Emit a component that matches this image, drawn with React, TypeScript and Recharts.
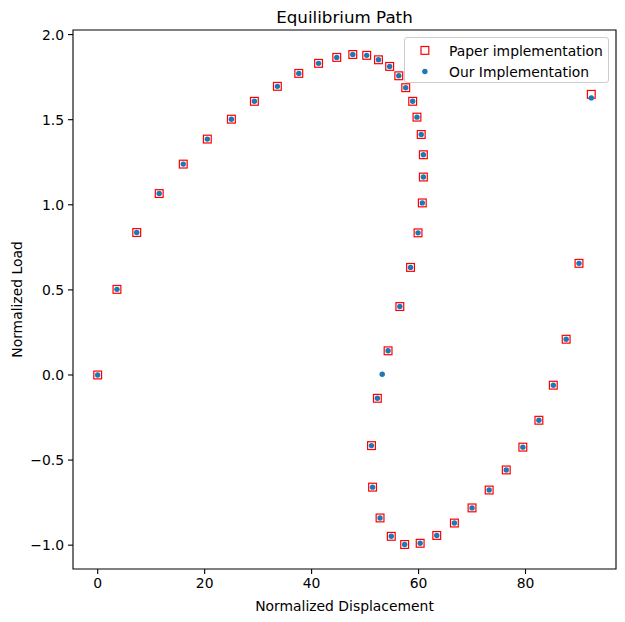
import { ScatterChart, Scatter, XAxis, YAxis, ReferenceArea } from 'recharts';

const paperX = [
  0, 3.6, 7.3, 11.5, 16.0, 20.5, 25.0, 29.3, 33.6, 37.6, 41.3, 44.7, 47.7, 50.3, 52.5, 54.6,
  56.3, 57.6, 58.9, 59.7, 60.5, 60.9, 60.9, 60.7, 59.9, 58.5, 56.5, 54.3, 52.3, 51.2, 51.4,
  52.8, 54.9, 57.4, 60.3, 63.4, 66.7, 70.0, 73.2, 76.4, 79.5, 82.5, 85.2, 87.6, 90.0, 92.3,
];
const paperY = [
  0, 0.503, 0.837, 1.066, 1.239, 1.386, 1.503, 1.608, 1.696, 1.772, 1.831, 1.866, 1.883, 1.878,
  1.852, 1.813, 1.758, 1.688, 1.608, 1.515, 1.413, 1.294, 1.163, 1.011, 0.835, 0.632, 0.402,
  0.142, -0.137, -0.415, -0.659, -0.84, -0.948, -0.996, -0.989, -0.943, -0.87, -0.781, -0.676,
  -0.558, -0.424, -0.266, -0.06, 0.21, 0.656, 1.649,
];
const oursX = [
  0, 3.6, 7.3, 11.5, 16.0, 20.5, 25.0, 29.3, 33.6, 37.6, 41.3, 44.7, 47.7, 50.3, 52.5, 54.6,
  56.3, 57.6, 58.9, 59.7, 60.5, 60.9, 60.9, 60.7, 59.9, 58.5, 56.5, 54.3, 53.2, 52.3, 51.2, 51.4,
  52.8, 54.9, 57.4, 60.3, 63.4, 66.7, 70.0, 73.2, 76.4, 79.5, 82.5, 85.2, 87.6, 90.0, 92.3,
];
const oursY = [
  0, 0.503, 0.837, 1.066, 1.239, 1.386, 1.503, 1.608, 1.696, 1.772, 1.831, 1.866, 1.883, 1.878,
  1.852, 1.813, 1.758, 1.688, 1.608, 1.515, 1.413, 1.294, 1.163, 1.011, 0.835, 0.632, 0.402,
  0.142, 0.004, -0.137, -0.415, -0.659, -0.84, -0.948, -0.996, -0.989, -0.943, -0.87, -0.781,
  -0.676, -0.558, -0.424, -0.266, -0.06, 0.21, 0.656, 1.628,
];
const xTicks = [0, 20, 40, 60, 80];
const yTicks = [-1.0, -0.5, 0.0, 0.5, 1.0, 1.5, 2.0];

const X_DOMAIN: [number, number] = [-4.62, 96.92];
const Y_DOMAIN: [number, number] = [-1.14, 2.027];

const paperData = paperX.map((x, i) => ({ x, y: paperY[i] }));
const oursData = oursX.map((x, i) => ({ x, y: oursY[i] }));

const FONT = '"DejaVu Sans", sans-serif';
const RED = '#ff0000';
const BLUE = '#1f77b4';

const SquareMarker = (props: any) => {
  const { cx, cy } = props;
  return <rect x={cx - 3.9} y={cy - 3.9} width={7.8} height={7.8} fill="none" stroke={RED} strokeWidth={1.2} />;
};

const DotMarker = (props: any) => {
  const { cx, cy } = props;
  return <circle cx={cx} cy={cy} r={2.7} fill={BLUE} />;
};

const fmt = (v: number) => v.toFixed(1).replace('-', '\u2212');

function LegendBox() {
  return (
    <div
      style={{
        position: 'absolute',
        left: 404,
        top: 37,
        width: 203,
        height: 44,
        border: '1px solid #cccccc',
        borderRadius: 3,
        background: 'rgba(255,255,255,0.8)',
      }}
    >
      <svg width={203} height={44} style={{ position: 'absolute', left: 0, top: 0 }}>
        <rect x={16} y={8.5} width={7.8} height={7.8} fill="none" stroke={RED} strokeWidth={1.2} />
        <circle cx={19.9} cy={33.5} r={2.7} fill={BLUE} />
        <text x={44} y={12.5} dominantBaseline="central" fontFamily={FONT} fontSize={13.9}>Paper implementation</text>
        <text x={44} y={33.5} dominantBaseline="central" fontFamily={FONT} fontSize={13.9}>Our Implementation</text>
      </svg>
    </div>
  );
}

const YLabel = (props: any) => {
  const { viewBox } = props;
  const cy = viewBox.y + viewBox.height / 2;
  return (
    <text
      x={17}
      y={cy}
      transform={`rotate(-90, 17, ${cy})`}
      textAnchor="middle"
      dominantBaseline="central"
      fontFamily={FONT}
      fontSize={13.9}
      fill="#000"
    >
      Normalized Load
    </text>
  );
};

export default function App() {
  return (
    <div style={{ position: 'absolute', left: 0, top: 0, width: 625, height: 622, background: '#fff' }}>
      <div
        style={{
          position: 'absolute',
          left: 73,
          width: 543,
          top: 7,
          textAlign: 'center',
          fontFamily: FONT,
          fontSize: 16.7,
          color: '#000',
          lineHeight: '20px',
        }}
      >
        Equilibrium Path
      </div>
      <ScatterChart width={625} height={622} margin={{ top: 30, right: 9, bottom: 0, left: 0 }}>
        <XAxis
          type="number"
          dataKey="x"
          domain={X_DOMAIN}
          allowDataOverflow
          ticks={xTicks}
          axisLine={false}
          tickSize={5}
          tickMargin={4}
          height={53}
          tick={{ fontFamily: FONT, fontSize: 13.9, fill: '#000' }}
          tickLine={{ stroke: '#000', strokeWidth: 1.1 }}
          label={{
            value: 'Normalized Displacement',
            position: 'insideBottom',
            offset: 11,
            style: { fontFamily: FONT, fontSize: 13.9, fill: '#000' },
          }}
        />
        <YAxis
          type="number"
          dataKey="y"
          domain={Y_DOMAIN}
          allowDataOverflow
          ticks={yTicks}
          tickFormatter={fmt}
          axisLine={false}
          tickSize={5}
          tickMargin={4}
          width={73}
          tick={{ fontFamily: FONT, fontSize: 13.9, fill: '#000' }}
          tickLine={{ stroke: '#000', strokeWidth: 1.1 }}
          label={<YLabel />}
        />
        <ReferenceArea
          x1={X_DOMAIN[0]}
          x2={X_DOMAIN[1]}
          y1={Y_DOMAIN[0]}
          y2={Y_DOMAIN[1]}
          fill="none"
          fillOpacity={0}
          stroke="#000"
          strokeWidth={1.1}
          strokeOpacity={1}
        />
        <Scatter name="Paper implementation" data={paperData} shape={SquareMarker} isAnimationActive={false} />
        <Scatter name="Our Implementation" data={oursData} shape={DotMarker} isAnimationActive={false} />
      </ScatterChart>
      <LegendBox />
    </div>
  );
}
